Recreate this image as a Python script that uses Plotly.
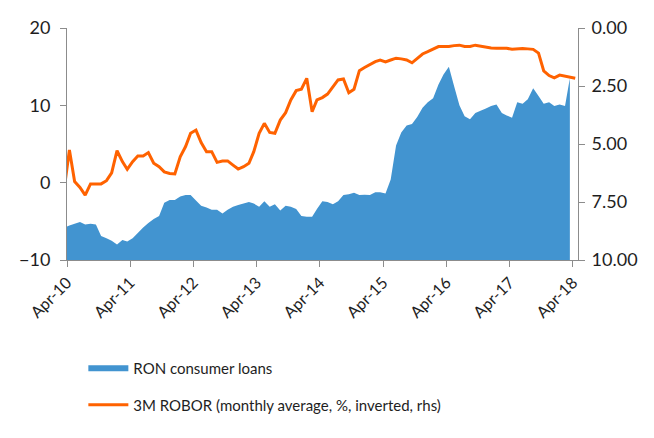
import pandas as pd
import plotly.graph_objects as go

# Monthly data, Mar-2010 .. Mar-2018 (loans) and Mar-2010 .. Apr-2018 (ROBOR)
loans = [-5.8, -5.55, -5.3, -5.1, -5.4, -5.3, -5.4, -6.9, -7.2, -7.5, -8.0,
         -7.4, -7.6, -7.2, -6.5, -5.8, -5.2, -4.7, -4.3, -2.6, -2.25, -2.25,
         -1.8, -1.6, -1.6, -2.3, -3.0, -3.2, -3.5, -3.5, -4.0, -3.5, -3.1,
         -2.9, -2.7, -2.5, -2.7, -3.1, -2.4, -3.1, -2.8, -3.6, -3.0, -3.1,
         -3.4, -4.3, -4.4, -4.4, -3.4, -2.4, -2.5, -2.8, -2.4, -1.6, -1.5,
         -1.3, -1.6, -1.55, -1.6, -1.25, -1.25, -1.4, 0.4, 4.8, 6.5, 7.4,
         7.6, 8.5, 9.7, 10.4, 10.9, 12.7, 14.0, 15.0, 12.5, 10.0, 8.6, 8.2,
         9.0, 9.3, 9.6, 9.9, 10.1, 9.0, 8.7, 8.4, 10.4, 10.2, 10.8, 12.2,
         11.2, 10.2, 10.4, 9.9, 10.1, 9.9, 13.5]

robor = [6.98, 5.26, 6.62, 6.87, 7.2, 6.72, 6.72, 6.72, 6.58, 6.24, 5.29,
         5.76, 6.09, 5.76, 5.52, 5.52, 5.37, 5.83, 5.98, 6.2, 6.27, 6.29,
         5.55, 5.11, 4.54, 4.4, 4.94, 5.33, 5.33, 5.79, 5.73, 5.73, 5.91,
         6.08, 5.98, 5.83, 5.33, 4.54, 4.11, 4.5, 4.54, 3.97, 3.65, 3.10,
         2.70, 2.64, 2.17, 3.61, 3.10, 3.0, 2.85, 2.53, 2.24, 2.20, 2.79,
         2.64, 1.84, 1.70, 1.57, 1.45, 1.38, 1.46, 1.38, 1.30, 1.33, 1.38,
         1.50, 1.30, 1.12, 1.02, 0.90, 0.80, 0.80, 0.80, 0.76, 0.74, 0.80,
         0.80, 0.74, 0.78, 0.83, 0.86, 0.87, 0.87, 0.87, 0.92, 0.90, 0.88,
         0.90, 0.92, 1.08, 1.85, 2.05, 2.15, 2.03, 2.08, 2.12, 2.17]

start_month = "2010-03-01"
dates_robor = pd.date_range(start_month, periods=len(robor), freq="MS") + pd.Timedelta(days=14)
dates_loans = dates_robor[:len(loans)]

tick_years = list(range(2010, 2019))
tick_vals = [f"{y}-04-01" for y in tick_years]
tick_text = [f"Apr-{str(y)[2:]}" for y in tick_years]

left_range = [-10, 20]
right_range = [10, 0]

BLUE = "#4294D0"
ORANGE = "#FF6200"
AXIS = "#8C8C8C"
TEXT = "#1E1E1E"
FONT = "Lato"

fig = go.Figure()
fig.add_trace(go.Scatter(x=dates_loans, y=[left_range[0]] * len(loans), mode="lines",
                         line=dict(width=0, color=BLUE), showlegend=False,
                         hoverinfo="skip", legendgroup="base"))
fig.add_trace(go.Scatter(x=dates_loans, y=loans, mode="none", fill="tonexty",
                         fillcolor=BLUE, name="RON consumer loans", legendgroup="a"))
fig.add_trace(go.Scatter(x=dates_robor, y=robor, mode="lines", yaxis="y2",
                         line=dict(color=ORANGE, width=3),
                         name="3M ROBOR (monthly average, %, inverted, rhs)",
                         legendgroup="b"))

fig.update_layout(
    width=654, height=438,
    margin=dict(l=59, r=84, t=20, b=186),
    paper_bgcolor="white", plot_bgcolor="white",
    font=dict(family=FONT, color=TEXT, size=15),
    xaxis=dict(type="date", range=["2010-04-01", "2018-05-01"],
               tickvals=tick_vals, ticktext=tick_text, tickangle=-45,
               showgrid=False, zeroline=False, showline=True, linecolor=AXIS,
               linewidth=1, ticks="outside", tickcolor=AXIS, ticklen=6,
               tickfont=dict(size=16, color=TEXT), automargin=False),
    yaxis=dict(range=left_range, dtick=10, showgrid=False, zeroline=False,
               showline=True, linecolor=AXIS, ticks="outside", tickcolor=AXIS,
               ticklen=6, tickfont=dict(size=18, color=TEXT), automargin=False,
               ticklabelstandoff=6),
    yaxis2=dict(range=right_range, dtick=2.5, tickformat=".2f", overlaying="y",
                side="right", showgrid=False, zeroline=False, showline=True,
                linecolor=AXIS, ticks="outside", tickcolor=AXIS, ticklen=6,
                tickfont=dict(size=18, color=TEXT), automargin=False,
                ticklabelstandoff=3),
    legend=dict(x=0.032, y=-0.3965, xanchor="left", yanchor="top",
                orientation="v", tracegroupgap=14, itemwidth=40,
                font=dict(size=15, color=TEXT), bgcolor="rgba(0,0,0,0)"),
    showlegend=True,
)

fig.write_html("out.html")
